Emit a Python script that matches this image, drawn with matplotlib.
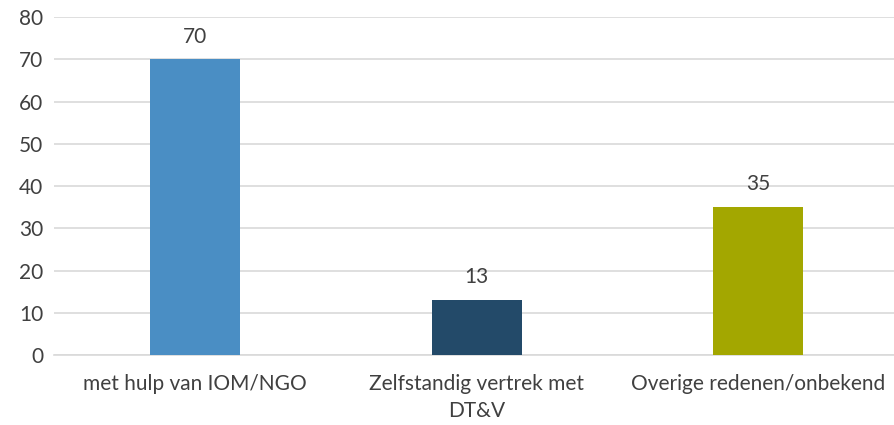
import matplotlib.pyplot as plt

categories = ["met hulp van IOM/NGO", "Zelfstandig vertrek met\nDT&V", "Overige redenen/onbekend"]
values = [70, 13, 35]
colors = ["#4A8EC4", "#234A69", "#A3A700"]

plt.rcParams["font.family"] = ["Lato", "DejaVu Sans"]

fig = plt.figure(figsize=(8.94, 4.25), dpi=100)
ax = fig.add_axes([0.0607, 0.1647, 0.9447, 0.7953])

x = range(len(categories))
bars = ax.bar(x, values, width=0.32, color=colors, zorder=3)
for b, v in zip(bars, values):
    ax.text(b.get_x() + b.get_width() / 2, v + 3, str(v), ha="center", va="bottom",
            fontsize=15, color="#404040")

ax.set_xlim(-0.5, 2.5)
ax.set_ylim(0, 80)
ax.set_yticks(range(0, 81, 10))
ax.set_xticks(list(x))
ax.set_xticklabels(categories, fontsize=15, color="#404040", linespacing=1.4)
ax.tick_params(axis="y", labelsize=15, labelcolor="#404040", length=0, pad=8)
ax.tick_params(axis="x", length=0, pad=14)
ax.grid(axis="y", color="#D9D9D9", linewidth=1.2, zorder=0)
for s in ["top", "right", "left"]:
    ax.spines[s].set_visible(False)
ax.spines["bottom"].set_color("#D9D9D9")
ax.spines["bottom"].set_linewidth(1.2)

fig.savefig("out.png", dpi=100)
